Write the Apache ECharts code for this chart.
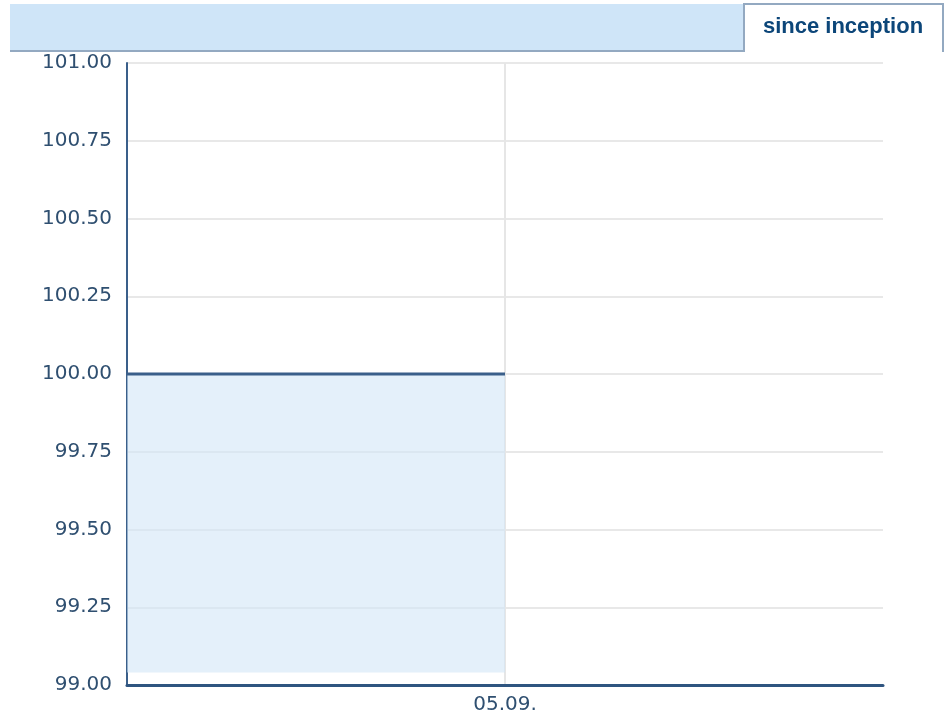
<!DOCTYPE html>
<html>
<head>
<meta charset="utf-8">
<script src="https://cdn.jsdelivr.net/npm/echarts@6/dist/echarts.min.js"></script>
<style>html,body{margin:0;padding:0;background:#fff}#c{width:947px;height:715px}</style>
</head>
<body>
<div id="c"></div>
<script>
var categories = ['', '05.09.', ''];
var values = [100, 100, null];
var yTicks = {min: 99, max: 101, step: 0.25};
var tabLabel = 'since inception';

var chart = echarts.init(document.getElementById('c'), null, {renderer: 'canvas'});
chart.setOption({
  animation: false,
  grid: {left: 127, right: 64, top: 63, bottom: 30, containLabel: false},
  xAxis: {
    type: 'category',
    data: categories,
    boundaryGap: false,
    axisLine: {show: true, lineStyle: {color: '#2f5580', width: 3}},
    axisTick: {show: false},
    axisLabel: {
      interval: 0,
      color: '#2f4f70',
      fontFamily: 'DejaVu Sans',
      fontSize: 20,
      margin: 10
    },
    splitLine: {show: true, interval: function (i) { return i === 1; }, lineStyle: {color: '#e6e6e6', width: 2}}
  },
  yAxis: {
    type: 'value',
    min: yTicks.min, max: yTicks.max, interval: yTicks.step,
    axisLine: {show: true, lineStyle: {color: '#3a5f8a', width: 2}},
    axisTick: {show: false},
    axisLabel: {
      color: '#2f4f70',
      fontFamily: 'DejaVu Sans',
      fontSize: 20,
      margin: 15,
      formatter: function (v) { return v.toFixed(2); }
    },
    splitLine: {show: true, lineStyle: {color: '#e8e8e8', width: 2}}
  },
  series: [{
    type: 'line',
    data: values,
    showSymbol: false,
    symbol: 'none',
    lineStyle: {color: '#3a5f8a', width: 3},
    areaStyle: {color: 'rgba(210,230,246,0.6)', opacity: 1, origin: 99.04},
    z: 3
  }],
  graphic: [
    {type: 'rect', shape: {x: 10, y: 4, width: 733, height: 47}, style: {fill: '#cfe5f8'}, z: 10},
    {type: 'rect', shape: {x: 10, y: 50, width: 734, height: 2}, style: {fill: '#93a9c1'}, z: 11},
    {type: 'rect', shape: {x: 743, y: 3, width: 201, height: 2}, style: {fill: '#93a9c1'}, z: 11},
    {type: 'rect', shape: {x: 743, y: 3, width: 2, height: 49}, style: {fill: '#93a9c1'}, z: 11},
    {type: 'rect', shape: {x: 942, y: 3, width: 2, height: 49}, style: {fill: '#93a9c1'}, z: 11},
    {type: 'text', x: 843, y: 27, style: {text: tabLabel, fill: '#0c4679', font: 'bold 22px "Liberation Sans", Arial, sans-serif', textAlign: 'center', textVerticalAlign: 'middle'}, z: 12}
  ]
});
</script>
</body>
</html>
